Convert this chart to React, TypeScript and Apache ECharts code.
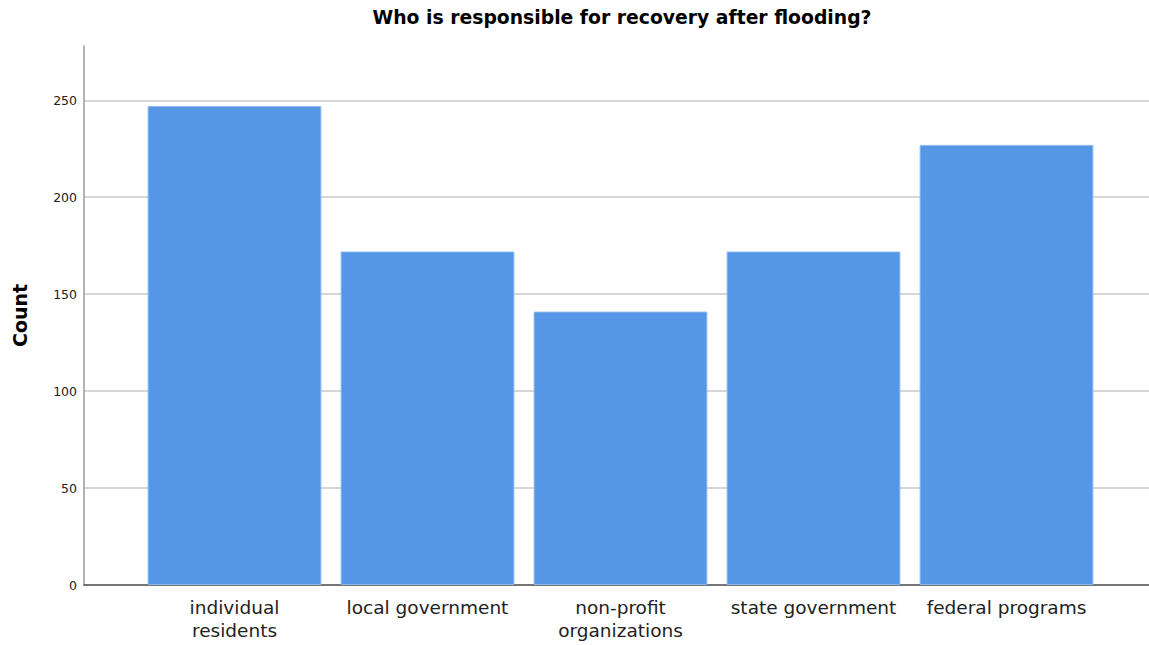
import React, { useEffect, useRef } from "react";
import * as echarts from "echarts";

const categories = [
  "individual\nresidents",
  "local government",
  "non-profit\norganizations",
  "state government",
  "federal programs",
];
const counts = [247, 172, 141, 172, 227];
const yTickMax = 250;
const yTickStep = 50;
const yAxisMax = 278;

const FONT = "DejaVu Sans, Verdana, sans-serif";

export default function App() {
  const ref = useRef<HTMLDivElement>(null);
  useEffect(() => {
    const chart = echarts.init(ref.current!, null, { renderer: "svg" });
    const plotTop = 46;
    const plotBottom = 60;
    const plotH = 645 - plotTop - plotBottom;
    const tickTop = plotTop + plotH * (1 - yTickMax / yAxisMax);
    chart.setOption({
      animation: false,
      backgroundColor: "#ffffff",
      title: {
        text: "Who is responsible for recovery after flooding?",
        left: 617,
        top: 3,
        textAlign: "center",
        textStyle: { fontFamily: FONT, fontSize: 18.8, fontWeight: "bold", color: "#000" },
      },
      grid: [
        { left: 84, right: 0, top: plotTop, bottom: plotBottom, outerBoundsMode: "none", containLabel: false },
        { left: 138, right: 46, top: plotTop, bottom: plotBottom, outerBoundsMode: "none", containLabel: false },
        { left: 84, right: 0, top: tickTop, bottom: plotBottom, outerBoundsMode: "none", containLabel: false },
      ],
      xAxis: [
        {
          type: "value",
          gridIndex: 0,
          min: 0,
          max: 1,
          axisLine: { show: true, onZero: false, lineStyle: { color: "#555", width: 1.5 } },
          axisTick: { show: false },
          axisLabel: { show: false },
          splitLine: { show: false },
        },
        {
          type: "category",
          gridIndex: 1,
          data: categories,
          axisLine: { show: false },
          axisTick: { show: false },
          axisLabel: {
            fontFamily: FONT,
            fontSize: 18.5,
            color: "#222",
            lineHeight: 23,
            margin: 11,
            interval: 0,
          },
        },
        {
          type: "value",
          gridIndex: 2,
          min: 0,
          max: 1,
          show: false,
        },
      ],
      yAxis: [
        {
          type: "value",
          gridIndex: 0,
          min: 0,
          max: yAxisMax,
          name: "Count",
          nameLocation: "middle",
          nameGap: 55,
          nameTextStyle: { fontFamily: FONT, fontSize: 19, fontWeight: "bold", color: "#000" },
          axisLine: { show: true, lineStyle: { color: "#999", width: 1.5 } },
          axisTick: { show: false },
          axisLabel: { show: false },
          splitLine: { show: false },
        },
        {
          type: "value",
          gridIndex: 1,
          min: 0,
          max: yAxisMax,
          show: false,
        },
        {
          type: "value",
          gridIndex: 2,
          min: 0,
          max: yTickMax,
          interval: yTickStep,
          axisLine: { show: false },
          axisTick: { show: false },
          axisLabel: {
            fontFamily: FONT,
            fontSize: 12.5,
            color: "#222",
            margin: 7,
          },
          splitLine: { show: true, lineStyle: { color: "#c8c8c8", width: 1.5 } },
        },
      ],
      series: [
        {
          type: "bar",
          xAxisIndex: 1,
          yAxisIndex: 1,
          data: counts,
          barCategoryGap: "10%",
          itemStyle: { color: "#5596e6", borderColor: "#8ab8ef", borderWidth: 1 },
        },
      ],
    });
    return () => chart.dispose();
  }, []);
  return <div ref={ref} style={{ width: 1149, height: 645, position: "absolute", left: 0, top: 0 }} />;
}
